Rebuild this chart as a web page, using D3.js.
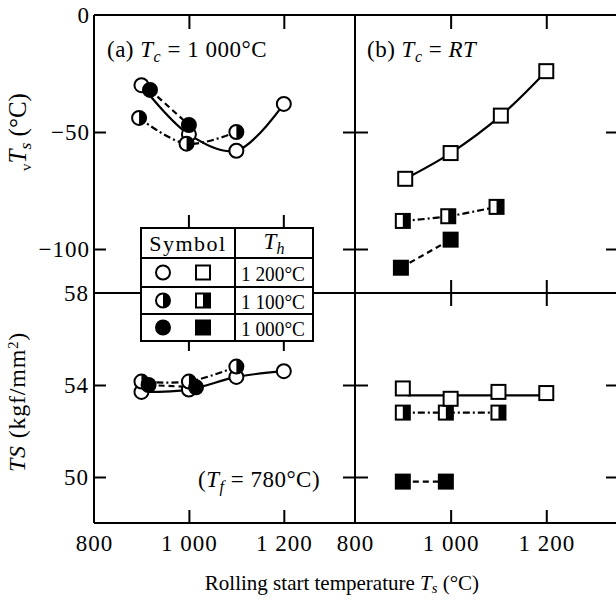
<!DOCTYPE html>
<html>
<head>
<meta charset="utf-8">
<script src="https://cdn.jsdelivr.net/npm/d3@7"></script>
<style>
  body { margin: 0; background: #fff; }
  svg, svg text { font-family: "Liberation Serif", "Times New Roman", "DejaVu Serif", serif; fill: #000; }
</style>
</head>
<body>
<div id="chart"></div>
<script>
// tick values and labels
const xTicks = [800, 1000, 1200];
const xTickLabels = ["800", "1 000", "1 200"];
const vtsTicks = [0, -50, -100];
const vtsTickLabels = ["0", "\u221250", "\u2212100"];
const tsTicks = [58, 54, 50];
const tsTickLabels = ["58", "54", "50"];

// (a) Tc = 1 000°C, vTs (°C) — [rolling start temp, value]
const aVtsTh1200 = [[900, -30], [1000, -51], [1100, -58], [1200, -38]];
const aVtsTh1100 = [[895, -44], [995, -55], [1100, -50]];
const aVtsTh1000 = [[918, -32], [1000, -47]];
// (b) Tc = RT, vTs (°C)
const bVtsTh1200 = [[905, -70], [1000, -59], [1105, -43], [1200, -24]];
const bVtsTh1100 = [[900, -88], [995, -86], [1096, -82]];
const bVtsTh1000 = [[896, -108], [1000, -96]];
// (a) TS (kgf/mm2)
const aTsTh1200 = [[900, 53.7], [1000, 53.8], [1100, 54.35], [1200, 54.6]];
const aTsTh1100 = [[900, 54.15], [1000, 54.15], [1100, 54.8]];
const aTsTh1000 = [[915, 54.0], [1015, 53.9]];
// (b) TS (kgf/mm2)
const bTsTh1200 = [[900, 53.85], [1000, 53.4], [1100, 53.7], [1200, 53.65]];
const bTsFit1200 = [[910, 53.55], [1200, 53.55]];
const bTsTh1100 = [[900, 52.8], [990, 52.8], [1100, 52.8]];
const bTsTh1000 = [[900, 49.8], [990, 49.8]];

// legend
const legendFills = ["open", "half", "filled"];
const legendTh = ["1 200\u00b0C", "1 100\u00b0C", "1 000\u00b0C"];

const width = 616, height = 601;
const leftX = 94, midX = 355, rightX = 618;
const topY = 15, midY = 293, bottomY = 523;

const svg = d3.select("#chart").append("svg")
    .attr("width", width)
    .attr("height", height);

const xA = d3.scaleLinear().domain([800, 1350]).range([leftX, midX]);
const xB = d3.scaleLinear().domain([800, 1350]).range([midX, rightX]);
const yTop = d3.scaleLinear().domain([-118.8, 0]).range([midY, topY]);
const yBot = d3.scaleLinear().domain([48, 58]).range([bottomY, midY]);

// frame
const frame = svg.append("g").attr("stroke", "#000").attr("stroke-width", 2).attr("fill", "none");
[topY, midY, bottomY].forEach(y => frame.append("line").attr("x1", leftX).attr("x2", rightX).attr("y1", y).attr("y2", y));
[leftX, midX, rightX].forEach(x => frame.append("line").attr("x1", x).attr("x2", x).attr("y1", topY).attr("y2", bottomY));

// tick marks only (no labels, no domain)
function ticks(axis, tx, ty) {
    svg.append("g")
        .attr("transform", `translate(${tx},${ty})`)
        .call(axis.tickFormat(""))
        .call(g => g.select(".domain").remove())
        .selectAll("line").attr("stroke", "#000").attr("stroke-width", 2);
}
const innerY = [-50, -100], innerTs = [54, 50], innerX = [1000, 1200];
ticks(d3.axisRight(yTop).tickValues(innerY).tickSize(12), leftX, 0);
ticks(d3.axisRight(yBot).tickValues(innerTs).tickSize(12), leftX, 0);
ticks(d3.axisLeft(yTop).tickValues(innerY).tickSize(12), midX, 0);
ticks(d3.axisRight(yTop).tickValues(innerY).tickSize(13), midX, 0);
ticks(d3.axisLeft(yBot).tickValues(innerTs).tickSize(12), midX, 0);
ticks(d3.axisRight(yBot).tickValues(innerTs).tickSize(13), midX, 0);
ticks(d3.axisLeft(yTop).tickValues(innerY).tickSize(12), rightX, 0);
ticks(d3.axisLeft(yBot).tickValues(innerTs).tickSize(12), rightX, 0);
ticks(d3.axisBottom(xA).tickValues(innerX).tickSize(14), 0, topY);
ticks(d3.axisBottom(xB).tickValues(innerX).tickSize(14), 0, topY);
ticks(d3.axisTop(xB).tickValues(innerX).tickSize(13), 0, midY);
ticks(d3.axisBottom(xB).tickValues(innerX).tickSize(13), 0, midY);
ticks(d3.axisTop(xA).tickValues(innerX).tickSize(13), 0, bottomY);
ticks(d3.axisTop(xB).tickValues(innerX).tickSize(13), 0, bottomY);

// tick labels
function labels(axis, tx, ty) {
    const g = svg.append("g")
        .attr("transform", `translate(${tx},${ty})`)
        .call(axis)
        .call(g => g.select(".domain").remove());
    g.attr("font-family", null).attr("font-size", null);
    g.selectAll("text").attr("font-size", 23).attr("letter-spacing", 1);
    return g;
}
labels(d3.axisLeft(yTop).tickValues(vtsTicks).tickFormat((d, i) => vtsTickLabels[i]).tickSize(0).tickPadding(4), leftX, 0);
labels(d3.axisLeft(yBot).tickValues(tsTicks).tickFormat((d, i) => tsTickLabels[i]).tickSize(0).tickPadding(5), leftX, 0);
labels(d3.axisBottom(xA).tickValues(xTicks).tickFormat((d, i) => xTickLabels[i]).tickSize(0).tickPadding(12), 0, bottomY);
labels(d3.axisBottom(xB).tickValues(xTicks).tickFormat((d, i) => xTickLabels[i]).tickSize(0).tickPadding(12), 0, bottomY);

// series
const line = (x, y, curve) => d3.line().x(d => x(d[0])).y(d => y(d[1])).curve(curve);
const dashes = { open: null, half: "7,3,2,3", filled: "6,4" };

function drawLine(data, x, y, kind, curve) {
    svg.append("path")
        .datum(data)
        .attr("d", line(x, y, curve || d3.curveCatmullRom))
        .attr("fill", "none")
        .attr("stroke", "#000")
        .attr("stroke-width", 2.2)
        .attr("stroke-dasharray", dashes[kind]);
}

function marker(g, shape, kind, cx, cy) {
    const r = 7;
    if (shape === "circle") {
        g.append("circle").attr("cx", cx).attr("cy", cy).attr("r", r)
            .attr("fill", kind === "filled" ? "#000" : "#fff");
        if (kind === "half") {
            g.append("path")
                .attr("d", `M${cx},${cy - r}A${r},${r} 0 0 1 ${cx},${cy + r}Z`)
                .attr("fill", "#000");
        }
        g.append("circle").attr("cx", cx).attr("cy", cy).attr("r", r)
            .attr("fill", "none").attr("stroke", "#000").attr("stroke-width", 2);
    } else {
        g.append("rect").attr("x", cx - r).attr("y", cy - r).attr("width", 2 * r).attr("height", 2 * r)
            .attr("fill", kind === "filled" ? "#000" : "#fff");
        if (kind === "half") {
            g.append("rect").attr("x", cx).attr("y", cy - r).attr("width", r).attr("height", 2 * r)
                .attr("fill", "#000");
        }
        g.append("rect").attr("x", cx - r).attr("y", cy - r).attr("width", 2 * r).attr("height", 2 * r)
            .attr("fill", "none").attr("stroke", "#000").attr("stroke-width", 2);
    }
}

function drawMarkers(data, x, y, shape, kind) {
    const g = svg.append("g");
    data.forEach(d => marker(g, shape, kind, x(d[0]), y(d[1])));
}

const series = [
    { data: aVtsTh1200, x: xA, y: yTop, shape: "circle", kind: "open" },
    { data: aVtsTh1100, x: xA, y: yTop, shape: "circle", kind: "half" },
    { data: aVtsTh1000, x: xA, y: yTop, shape: "circle", kind: "filled" },
    { data: bVtsTh1200, x: xB, y: yTop, shape: "square", kind: "open" },
    { data: bVtsTh1100, x: xB, y: yTop, shape: "square", kind: "half" },
    { data: bVtsTh1000, x: xB, y: yTop, shape: "square", kind: "filled" },
    { data: aTsTh1200, x: xA, y: yBot, shape: "circle", kind: "open" },
    { data: aTsTh1100, x: xA, y: yBot, shape: "circle", kind: "half" },
    { data: aTsTh1000, x: xA, y: yBot, shape: "circle", kind: "filled" },
    { data: bTsTh1100, x: xB, y: yBot, shape: "square", kind: "half", curve: d3.curveLinear },
    { data: bTsTh1000, x: xB, y: yBot, shape: "square", kind: "filled", curve: d3.curveLinear }
];

series.forEach(s => drawLine(s.data, s.x, s.y, s.kind, s.curve));
drawLine(bTsFit1200, xB, yBot, "open", d3.curveLinear);
series.forEach(s => drawMarkers(s.data, s.x, s.y, s.shape, s.kind));
drawMarkers(bTsTh1200, xB, yBot, "square", "open");

// text with italic / sub / sup parts
function rich(parent, parts, attrs) {
    const t = parent.append("text");
    Object.entries(attrs).forEach(([k, v]) => t.attr(k, v));
    parts.forEach(p => {
        const s = t.append("tspan").text(p.t);
        if (p.i) s.attr("font-style", "italic");
        if (p.fs) s.attr("font-size", p.fs);
        if (p.dy) s.attr("dy", p.dy);
    });
    return t;
}

rich(svg, [{ t: "(a) " }, { t: "T", i: true }, { t: "c", i: true, fs: "0.7em", dy: "0.3em" }, { t: " = 1 000\u00b0C", dy: "-0.21em" }],
    { x: 107, y: 57, "font-size": 23, "letter-spacing": 0.5 });
rich(svg, [{ t: "(b) " }, { t: "T", i: true }, { t: "c", i: true, fs: "0.7em", dy: "0.3em" }, { t: " = ", dy: "-0.21em" }, { t: "RT", i: true }],
    { x: 367, y: 57, "font-size": 23, "letter-spacing": 0.5 });
rich(svg, [{ t: "(" }, { t: "T", i: true }, { t: "f", i: true, fs: "0.7em", dy: "0.3em" }, { t: " = 780\u00b0C)", dy: "-0.21em" }],
    { x: 198, y: 487, "font-size": 23, "letter-spacing": 0.5 });

// axis titles
rich(svg, [{ t: "v", fs: "0.6em", dy: "0.35em" }, { t: "T", i: true, dy: "-0.21em" }, { t: "s", i: true, fs: "0.7em", dy: "0.3em" }, { t: " (\u00b0C)", dy: "-0.21em" }],
    { transform: "translate(26,132) rotate(-90)", "text-anchor": "middle", "font-size": 25 });
rich(svg, [{ t: "TS", i: true }, { t: " (kgf/mm" }, { t: "2", fs: "0.6em", dy: "-0.5em" }, { t: ")", dy: "0.3em" }],
    { transform: "translate(25,402) rotate(-90)", "text-anchor": "middle", "font-size": 24, "letter-spacing": 0.8 });
rich(svg, [{ t: "Rolling start temperature  " }, { t: "T", i: true }, { t: "s", i: true, fs: "0.7em", dy: "0.2em" }, { t: " (\u00b0C)", dy: "-0.14em" }],
    { x: 342, y: 590, "text-anchor": "middle", "font-size": 21 });

// legend table
const lg = { x: 141, y: 228, w: 172, col: 235, rows: [228, 258, 287, 314, 341] };
const leg = svg.append("g");
leg.append("rect").attr("x", lg.x).attr("y", lg.y).attr("width", lg.w).attr("height", lg.rows[4] - lg.y)
    .attr("fill", "#fff").attr("stroke", "#000").attr("stroke-width", 2);
leg.append("line").attr("x1", lg.col).attr("x2", lg.col).attr("y1", lg.rows[0]).attr("y2", lg.rows[4])
    .attr("stroke", "#000").attr("stroke-width", 2);
lg.rows.slice(1, 4).forEach(yy => leg.append("line").attr("x1", lg.x).attr("x2", lg.x + lg.w)
    .attr("y1", yy).attr("y2", yy).attr("stroke", "#000").attr("stroke-width", 2));
// short ticks on the table edges, continuing the axis ticks
innerX.forEach(v => {
    leg.append("line").attr("x1", xA(v)).attr("x2", xA(v)).attr("y1", lg.rows[0] - 13).attr("y2", lg.rows[0])
        .attr("stroke", "#000").attr("stroke-width", 2);
    leg.append("line").attr("x1", xA(v)).attr("x2", xA(v)).attr("y1", lg.rows[4]).attr("y2", lg.rows[4] + 10)
        .attr("stroke", "#000").attr("stroke-width", 2);
});
leg.append("text").attr("x", (lg.x + lg.col) / 2).attr("y", 251).attr("text-anchor", "middle")
    .attr("font-size", 22).attr("letter-spacing", 1.5).text("Symbol");
rich(leg, [{ t: "T", i: true }, { t: "h", i: true, fs: "0.7em", dy: "0.3em" }],
    { x: (lg.col + lg.x + lg.w) / 2, y: 249, "text-anchor": "middle", "font-size": 23 });
legendFills.forEach((kind, i) => {
    const cy = (lg.rows[i + 1] + lg.rows[i + 2]) / 2;
    marker(leg, "circle", kind, 163, cy);
    marker(leg, "square", kind, 203, cy);
    leg.append("text").attr("x", 241).attr("y", cy + 8).attr("font-size", 22)
        .attr("textLength", 64).attr("lengthAdjust", "spacingAndGlyphs").text(legendTh[i]);
});
</script>
</body>
</html>
